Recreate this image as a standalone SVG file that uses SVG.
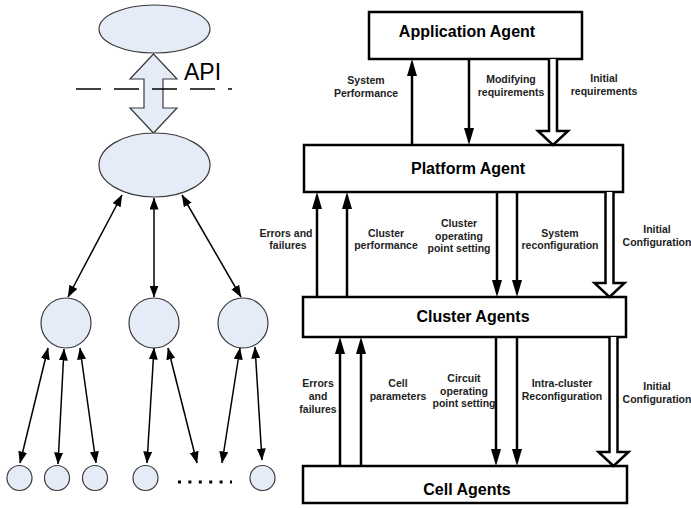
<svg xmlns="http://www.w3.org/2000/svg" width="691" height="508" viewBox="0 0 691 508">
<defs>
<style>
.bub{fill:#e6ecf7;stroke:#3a3a3a;stroke-width:1.2}
.la{stroke:#000;stroke-width:1.5;fill:none;marker-start:url(#al);marker-end:url(#al)}
.box{fill:#fff;stroke:#000;stroke-width:2.5}
.ra{stroke:#000;stroke-width:2.5;fill:none;marker-end:url(#ar)}
.ho{fill:#fff;stroke:#000;stroke-width:2.5;stroke-linejoin:miter}
.t{font-family:"Liberation Sans",Arial,sans-serif;font-weight:bold;font-size:16px;text-anchor:middle;fill:#000}
.l{font-family:"Liberation Sans",Arial,sans-serif;font-weight:bold;font-size:10.5px;text-anchor:middle;fill:#222}
</style>
<marker id="al" viewBox="0 0 12 9" refX="11.5" refY="4.5" markerWidth="12" markerHeight="9" markerUnits="userSpaceOnUse" orient="auto-start-reverse"><path d="M0,0 L12,4.5 L0,9 z" fill="#000"/></marker>
<marker id="ar" viewBox="0 0 17 10" refX="3" refY="5" markerWidth="17" markerHeight="10" markerUnits="userSpaceOnUse" orient="auto"><path d="M0,0 L17,5 L0,10 z" fill="#000"/></marker>
</defs>
<rect width="691" height="508" fill="#fff"/>

<!-- Left hierarchy -->
<g id="top-ellipse"><ellipse class="bub" cx="154.5" cy="29" rx="55.5" ry="24"/></g>
<g id="api-arrow">
<path class="bub" d="M153.5,54 L177,79 L163,79 L163,108 L177,108 L153.5,133 L130,108 L144,108 L144,79 L130,79 Z"/>
<line x1="76" y1="89" x2="232" y2="89" stroke="#000" stroke-width="1.3" stroke-dasharray="25,13"/>
<text x="184" y="80" font-family="'Liberation Sans',Arial,sans-serif" font-size="23" fill="#000">API</text>
</g>
<g id="mid-ellipse"><ellipse class="bub" cx="154.5" cy="165" rx="55.5" ry="32"/></g>
<g id="c1"><circle class="bub" cx="66" cy="323" r="25"/></g>
<g id="c2"><circle class="bub" cx="154" cy="323" r="25"/></g>
<g id="c3"><circle class="bub" cx="243" cy="323" r="25"/></g>
<g id="s1"><circle class="bub" cx="19.5" cy="478" r="12.5"/></g>
<g id="s2"><circle class="bub" cx="57" cy="478" r="12.5"/></g>
<g id="s3"><circle class="bub" cx="95" cy="478" r="12.5"/></g>
<g id="s4"><circle class="bub" cx="145.5" cy="478" r="12.5"/></g>
<g id="s5"><circle class="bub" cx="262.5" cy="478" r="12.5"/></g>
<g id="dots"><line x1="178" y1="482" x2="232" y2="482" stroke="#000" stroke-width="3" stroke-dasharray="3,7.4"/></g>

<g id="left-connectors">
<line class="la" x1="122" y1="195" x2="68" y2="297"/>
<line class="la" x1="154" y1="198" x2="154" y2="297"/>
<line class="la" x1="182" y1="195" x2="241" y2="297"/>
<line class="la" x1="48" y1="348" x2="20" y2="463"/>
<line class="la" x1="64" y1="349" x2="58" y2="464"/>
<line class="la" x1="80" y1="348" x2="96" y2="463"/>
<line class="la" x1="154" y1="348" x2="147" y2="463"/>
<line class="la" x1="168" y1="348" x2="197" y2="463"/>
<line class="la" x1="240" y1="348" x2="222" y2="463"/>
<line class="la" x1="255" y1="347" x2="262" y2="460"/>
</g>

<!-- Right agents -->
<g id="application-agent"><rect class="box" x="369" y="12" width="213" height="47"/><text class="t" x="467" y="37">Application Agent</text></g>
<g id="platform-agent"><rect class="box" x="304" y="145" width="319" height="47"/><text class="t" x="468" y="174">Platform Agent</text></g>
<g id="cluster-agents"><rect class="box" x="303" y="297" width="323" height="40"/><text class="t" x="473" y="322">Cluster Agents</text></g>
<g id="cell-agents"><rect class="box" x="303" y="466" width="324" height="37"/><text class="t" x="467" y="495">Cell Agents</text></g>

<g id="right-connectors">
<line class="ra" x1="412" y1="145" x2="412" y2="73"/>
<line class="ra" x1="469" y1="59" x2="469" y2="131"/>
<path class="ho" d="M549,59 L549,131 L538,131 L553,145 L568,131 L557,131 L557,59"/>
<line class="ra" x1="317" y1="297" x2="317" y2="206"/>
<line class="ra" x1="347" y1="297" x2="347" y2="206"/>
<line class="ra" x1="497" y1="192" x2="497" y2="283"/>
<line class="ra" x1="517" y1="192" x2="517" y2="283"/>
<path class="ho" d="M605.5,192 L605.5,283 L594.5,283 L609.5,297 L624.5,283 L613.5,283 L613.5,192"/>
<line class="ra" x1="340" y1="466" x2="340" y2="351"/>
<line class="ra" x1="361" y1="466" x2="361" y2="351"/>
<line class="ra" x1="496" y1="337" x2="496" y2="452"/>
<line class="ra" x1="517" y1="337" x2="517" y2="452"/>
<path class="ho" d="M609.5,337 L609.5,452 L598.5,452 L613.5,466 L628.5,452 L617.5,452 L617.5,337"/>
</g>

<g id="labels">
<text class="l" x="366" y="84">System</text>
<text class="l" x="366" y="97">Performance</text>
<text class="l" x="511" y="83">Modifying</text>
<text class="l" x="511" y="96">requirements</text>
<text class="l" x="604" y="82">Initial</text>
<text class="l" x="604" y="95">requirements</text>

<text class="l" x="286" y="237">Errors and</text>
<text class="l" x="288" y="249">failures</text>
<text class="l" x="386" y="237">Cluster</text>
<text class="l" x="386" y="249">performance</text>
<text class="l" x="459" y="227">Cluster</text>
<text class="l" x="459" y="240">operating</text>
<text class="l" x="459" y="252">point setting</text>
<text class="l" x="560" y="237">System</text>
<text class="l" x="560" y="249">reconfiguration</text>
<text class="l" x="657" y="233">Initial</text>
<text class="l" x="657" y="246">Configuration</text>

<text class="l" x="318" y="387">Errors</text>
<text class="l" x="318" y="400">and</text>
<text class="l" x="318" y="413">failures</text>
<text class="l" x="398" y="387">Cell</text>
<text class="l" x="398" y="400">parameters</text>
<text class="l" x="464" y="382">Circuit</text>
<text class="l" x="464" y="395">operating</text>
<text class="l" x="464" y="407">point setting</text>
<text class="l" x="562" y="387">Intra-cluster</text>
<text class="l" x="562" y="400">Reconfiguration</text>
<text class="l" x="657" y="390">Initial</text>
<text class="l" x="657" y="403">Configuration</text>
</g>
</svg>
